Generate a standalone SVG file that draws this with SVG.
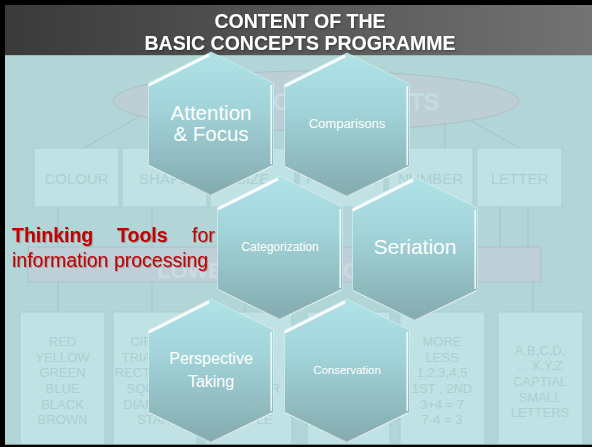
<svg xmlns="http://www.w3.org/2000/svg" xmlns:xlink="http://www.w3.org/1999/xlink" width="592" height="447" viewBox="0 0 592 447">
<defs>
  <linearGradient id="hdr" x1="0" y1="0" x2="1" y2="0">
    <stop offset="0" stop-color="#3a3a3a"/>
    <stop offset="1" stop-color="#737373"/>
  </linearGradient>
  <linearGradient id="hexfill" x1="0" y1="0" x2="0" y2="1">
    <stop offset="0" stop-color="#b0e3e7"/>
    <stop offset="0.4" stop-color="#a1d3d8"/>
    <stop offset="1" stop-color="#84aaae"/>
  </linearGradient>
  <path id="hex" d="M0,0 L62.5,31 L62.5,113 L0,144 L-62.5,113 L-62.5,31 Z"/>
  <g id="hexhl" fill="none">
    <path d="M-61,32.5 L-3,3.5" stroke="#ffffff" stroke-width="3" stroke-linecap="round" opacity="0.95"/>
    <path d="M60.2,33 L60.2,112" stroke="#ffffff" stroke-width="1.6" opacity="0.85"/>
    <path d="M61,114 L0,143" stroke="#ffffff" stroke-width="1.2" opacity="0.55"/>
    <path d="M-61.5,114 L0,143" stroke="#ffffff" stroke-width="1" opacity="0.4"/>
  </g>
  <filter id="hshadow" x="-10%" y="-30%" width="120%" height="160%">
    <feDropShadow dx="1" dy="1" stdDeviation="0.8" flood-color="#000" flood-opacity="0.4"/>
  </filter>
  <filter id="rshadow" x="-10%" y="-30%" width="120%" height="160%">
    <feDropShadow dx="1" dy="1" stdDeviation="0.6" flood-color="#5a0000" flood-opacity="0.3"/>
  </filter>
</defs>
<style>
  .bgbox { fill:#c0e2e4; stroke:#a9ced1; stroke-width:1; }
  .bt { font-family:"Liberation Sans", Arial, sans-serif; fill:#abcfd2; text-anchor:middle; }
  .tb { font-size:15px; }
  .lt { font-size:13px; }
  .conn { stroke:#9fc4c7; stroke-width:1; fill:none; }
  .hexshape { fill:url(#hexfill); stroke:#dff3f5; stroke-opacity:0.6; stroke-width:1; }
  .ht { font-family:"Liberation Sans", Arial, sans-serif; fill:#ffffff; text-anchor:middle; }
  .big { font-family:"Liberation Sans", Arial, sans-serif; font-weight:bold; }
</style>

<!-- frame and background -->
<rect x="0" y="0" width="592" height="447" fill="#000000"/>
<rect x="5" y="55" width="587" height="390" fill="#b2d5d7"/>
<rect x="5" y="5" width="587" height="50" fill="url(#hdr)"/>
<line x1="5" y1="55.5" x2="592" y2="55.5" stroke="#a3b7b9" stroke-width="1"/>

<!-- header title -->
<g id="title" class="big" fill="#ffffff" font-size="19.5" text-anchor="middle" filter="url(#hshadow)">
  <text x="300" y="28">CONTENT OF THE</text>
  <text x="300" y="50">BASIC CONCEPTS PROGRAMME</text>
</g>

<!-- background diagram -->
<g id="connectors">
  <line class="conn" x1="140" y1="116" x2="84" y2="148"/>
  <line class="conn" x1="445" y1="124" x2="445" y2="148"/>
  <line class="conn" x1="470" y1="120.5" x2="520" y2="148"/>
  <line class="conn" x1="58" y1="207" x2="58" y2="247"/>
  <line class="conn" x1="152" y1="207" x2="152" y2="247"/>
  <line class="conn" x1="500" y1="207" x2="500" y2="247"/>
  <line class="conn" x1="528" y1="207" x2="528" y2="247"/>
  <line class="conn" x1="58" y1="282" x2="58" y2="312"/>
  <line class="conn" x1="152" y1="282" x2="152" y2="312"/>
  <line class="conn" x1="245" y1="282" x2="245" y2="312"/>
  <line class="conn" x1="533" y1="282" x2="533" y2="312"/>
</g>

<g id="concepts-ellipse">
  <ellipse cx="316" cy="101" rx="203" ry="30" fill="#bdced5" stroke="#a8c2c8" stroke-width="1"/>
  <text class="big" x="273" y="110" font-size="23" fill="#c5dde2">OF CONCEPTS</text>
</g>

<g id="box-colour"><rect class="bgbox" x="34" y="148" width="85" height="59"/><text class="bt tb" x="76.5" y="184">COLOUR</text></g>
<g id="box-shape"><rect class="bgbox" x="122" y="148" width="85" height="59"/><text class="bt tb" x="164.5" y="184">SHAPE</text></g>
<g id="box-size"><rect class="bgbox" x="210" y="148" width="85" height="59"/><text class="bt tb" x="252.5" y="184">SIZE</text></g>
<g id="box-position"><rect class="bgbox" x="299" y="148" width="85" height="59"/><text class="bt tb" x="341.5" y="184">POSITION</text></g>
<g id="box-number"><rect class="bgbox" x="388" y="148" width="85" height="59"/><text class="bt tb" x="430.5" y="184">NUMBER</text></g>
<g id="box-letter"><rect class="bgbox" x="477" y="148" width="85" height="59"/><text class="bt tb" x="519.5" y="184">LETTER</text></g>

<g id="box-lower">
  <rect x="28" y="247" width="513" height="35" fill="#bfcfd7" stroke="#abc1c8" stroke-width="1"/>
  <text class="big" x="157" y="278" font-size="22" fill="#c9dce2">LOWER</text>
  <text class="big" x="343" y="278" font-size="22" fill="#c9dce2">C</text>
</g>

<g id="list-colour">
  <rect class="bgbox" x="20" y="312" width="85" height="140"/>
  <text class="bt lt"><tspan x="62.5" y="346">RED</tspan><tspan x="62.5" y="361.5">YELLOW</tspan><tspan x="62.5" y="377">GREEN</tspan><tspan x="62.5" y="393">BLUE</tspan><tspan x="62.5" y="408.5">BLACK</tspan><tspan x="62.5" y="424">BROWN</tspan></text>
</g>
<g id="list-shape">
  <rect class="bgbox" x="113" y="312" width="84" height="140"/>
  <text class="bt lt"><tspan x="154" y="346">CIRCLE</tspan><tspan x="154" y="361.5">TRIANGLE</tspan><tspan x="154" y="377">RECTANGLE</tspan><tspan x="154" y="393">SQUARE</tspan><tspan x="154" y="408.5">DIAMOND</tspan><tspan x="154" y="424">STAR</tspan></text>
</g>
<g id="list-size">
  <rect class="bgbox" x="205" y="312" width="87" height="140"/>
  <text class="bt lt" x="280" y="393" style="text-anchor:end">R</text>
  <text class="bt lt" x="272.5" y="424" style="text-anchor:end">LE</text>
</g>
<g id="list-position">
  <rect class="bgbox" x="307" y="312" width="83" height="140"/>
</g>
<g id="list-number">
  <rect class="bgbox" x="400" y="312" width="85" height="140"/>
  <text class="bt lt"><tspan x="442" y="346">MORE</tspan><tspan x="442" y="361.5">LESS</tspan><tspan x="442" y="377">1,2,3,4,5</tspan><tspan x="442" y="393">1ST , 2ND</tspan><tspan x="442" y="408.5">3+4 = 7</tspan><tspan x="442" y="424">7-4 = 3</tspan></text>
</g>
<g id="list-letter">
  <rect class="bgbox" x="498" y="312" width="85" height="140"/>
  <text class="bt lt"><tspan x="540" y="354.5">A,B,C,D,</tspan><tspan x="540" y="370">... X,Y,Z</tspan><tspan x="540" y="386">CAPTIAL</tspan><tspan x="540" y="401.5">SMALL</tspan><tspan x="540" y="417">LETTERS</tspan></text>
</g>

<!-- red caption -->
<g id="caption" font-family="'Liberation Sans', Arial, sans-serif" font-size="19.5" fill="#c00000" filter="url(#rshadow)">
  <text y="242"><tspan x="12" font-weight="bold">Thinking</tspan><tspan x="117" font-weight="bold">Tools</tspan><tspan x="192">for</tspan></text>
  <text x="12" y="267">information processing</text>
</g>

<!-- hexagon nodes -->
<g id="attention" transform="translate(211,52)">
  <use xlink:href="#hex" href="#hex" class="hexshape"/>
  <use xlink:href="#hexhl" href="#hexhl"/>
  <text class="ht" font-size="20.5"><tspan x="0" y="68">Attention</tspan><tspan x="0" y="89">&amp; Focus</tspan></text>
</g>
<g id="comparisons" transform="translate(347,53)">
  <use xlink:href="#hex" href="#hex" class="hexshape"/>
  <use xlink:href="#hexhl" href="#hexhl"/>
  <text class="ht" font-size="13" x="0" y="74.5">Comparisons</text>
</g>
<g id="categorization" transform="translate(280,176)">
  <use xlink:href="#hex" href="#hex" class="hexshape"/>
  <use xlink:href="#hexhl" href="#hexhl"/>
  <text class="ht" font-size="12" x="0" y="75">Categorization</text>
</g>
<g id="seriation" transform="translate(415,177)">
  <use xlink:href="#hex" href="#hex" class="hexshape"/>
  <use xlink:href="#hexhl" href="#hexhl"/>
  <text class="ht" font-size="21" x="0" y="77">Seriation</text>
</g>
<g id="perspective-taking" transform="translate(211,299)">
  <use xlink:href="#hex" href="#hex" class="hexshape"/>
  <use xlink:href="#hexhl" href="#hexhl"/>
  <text class="ht" font-size="16"><tspan x="0" y="65">Perspective</tspan><tspan x="0" y="88">Taking</tspan></text>
</g>
<g id="conservation" transform="translate(347,299)">
  <use xlink:href="#hex" href="#hex" class="hexshape"/>
  <use xlink:href="#hexhl" href="#hexhl"/>
  <text class="ht" font-size="11.5" x="0" y="75">Conservation</text>
</g>

<!-- bottom edge -->
<line x1="5" y1="444.5" x2="592" y2="444.5" stroke="#7f9294" stroke-width="1"/>
<rect x="0" y="445" width="592" height="2" fill="#000000"/>
</svg>
